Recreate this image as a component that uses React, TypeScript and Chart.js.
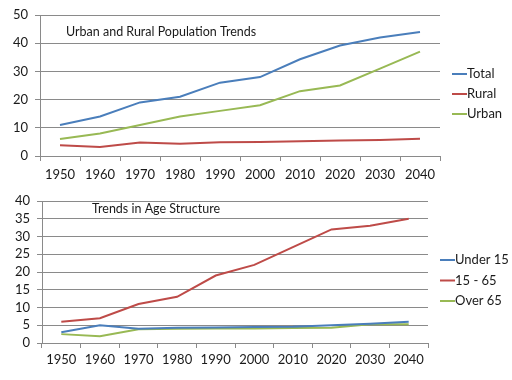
import React, { useEffect, useRef } from "react";
import { Chart, registerables } from "chart.js";

Chart.register(...registerables);

const years = ["1950", "1960", "1970", "1980", "1990", "2000", "2010", "2020", "2030", "2040"];

const totalPop = [11, 14, 19, 21, 26, 28, 34.3, 39.2, 42, 44];
const ruralPop = [3.8, 3.2, 4.8, 4.3, 4.9, 5, 5.2, 5.5, 5.7, 6.1];
const urbanPop = [6, 8, 11, 14, 16, 18, 23, 25, 31, 37];

const under15 = [3, 5, 4, 4.3, 4.4, 4.5, 4.6, 5, 5.4, 6];
const age15to65 = [6, 7, 11, 13, 19, 22, 27, 32, 33, 35];
const over65 = [2.5, 1.9, 3.9, 4, 4.1, 4.1, 4.2, 4.3, 5.3, 5.3];

const topTitle = "Urban and Rural Population Trends";
const bottomTitle = "Trends in Age Structure";

const BLUE = "#4A7EBB";
const RED = "#BE4B48";
const GREEN = "#98B954";
const GRID = "#8a8a8a";
const FONT = "Lato, 'Liberation Sans', sans-serif";

const overlayPlugin = {
  id: "overlay",
  afterDraw(chart: any, _args: any, opts: any) {
    const { ctx, chartArea } = chart;
    ctx.save();
    ctx.fillStyle = "#1a1a1a";
    ctx.textBaseline = "middle";
    ctx.textAlign = "left";
    ctx.font = `12.5px ${FONT}`;
    ctx.fillText(opts.title, chartArea.left + opts.titleDx, chartArea.top + opts.titleDy);
    ctx.font = `13px ${FONT}`;
    chart.data.datasets.forEach((ds: any, i: number) => {
      const y = opts.legendY + i * opts.legendDy;
      ctx.strokeStyle = ds.borderColor;
      ctx.lineWidth = 2;
      ctx.beginPath();
      ctx.moveTo(opts.legendX, y);
      ctx.lineTo(opts.legendX + 15, y);
      ctx.stroke();
      ctx.fillStyle = "#1a1a1a";
      ctx.fillText(ds.label, opts.legendX + 15, y);
    });
    ctx.restore();
  },
};

type Cfg = {
  datasets: { label: string; data: number[]; color: string }[];
  max: number;
  step: number;
  padRight: number;
  padTop: number;
  yWidth: number;
  xHeight: number;
  xPad: number;
  overlay: any;
};

function LineChart({ cfg, height }: { cfg: Cfg; height: number }) {
  const ref = useRef<HTMLCanvasElement | null>(null);
  useEffect(() => {
    if (!ref.current) return;
    const chart = new Chart(ref.current, {
      type: "line",
      data: {
        labels: years,
        datasets: cfg.datasets.map((d) => ({
          label: d.label,
          data: d.data,
          borderColor: d.color,
          backgroundColor: d.color,
          borderWidth: 2,
          pointRadius: 0,
          tension: 0,
        })),
      },
      plugins: [overlayPlugin],
      options: {
        animation: false,
        responsive: true,
        maintainAspectRatio: false,
        layout: { padding: { left: 0, right: cfg.padRight, top: cfg.padTop, bottom: 0 } },
        plugins: {
          legend: { display: false },
          tooltip: { enabled: false },
          overlay: cfg.overlay,
        } as any,
        scales: {
          x: {
            offset: true,
            grid: {
              offset: true,
              drawOnChartArea: false,
              drawTicks: true,
              tickLength: 5,
              color: GRID,
            },
            border: { display: true, color: GRID },
            ticks: {
              color: "#1a1a1a",
              font: { family: FONT, size: 13 },
              padding: cfg.xPad,
              maxRotation: 0,
              autoSkip: false,
            },
            afterFit(scale: any) {
              scale.height = cfg.xHeight;
            },
          },
          y: {
            min: 0,
            max: cfg.max,
            grid: { color: GRID, tickLength: 5 },
            border: { display: true, color: GRID },
            ticks: {
              stepSize: cfg.step,
              autoSkip: false,
              color: "#1a1a1a",
              font: { family: FONT, size: 13 },
              padding: 7,
            },
            afterFit(scale: any) {
              scale.width = cfg.yWidth;
            },
          },
        },
      },
    });
    return () => chart.destroy();
  }, []);
  return (
    <div style={{ position: "relative", width: 512, height }}>
      <canvas ref={ref} />
    </div>
  );
}

const topCfg: Cfg = {
  datasets: [
    { label: "Total", data: totalPop, color: BLUE },
    { label: "Rural", data: ruralPop, color: RED },
    { label: "Urban", data: urbanPop, color: GREEN },
  ],
  max: 50,
  step: 10,
  padRight: 72,
  padTop: 15,
  yWidth: 40,
  xHeight: 29,
  xPad: 6,
  overlay: { title: topTitle, titleDx: 26, titleDy: 17, legendX: 452, legendY: 74, legendDy: 20 },
};

const bottomCfg: Cfg = {
  datasets: [
    { label: "Under 15", data: under15, color: BLUE },
    { label: "15 - 65", data: age15to65, color: RED },
    { label: "Over 65", data: over65, color: GREEN },
  ],
  max: 40,
  step: 5,
  padRight: 84,
  padTop: 16,
  yWidth: 42,
  xHeight: 37,
  xPad: 4,
  overlay: { title: bottomTitle, titleDx: 50, titleDy: 8, legendX: 440, legendY: 75, legendDy: 20.5 },
};

export default function App() {
  return (
    <div style={{ position: "fixed", left: 0, top: 0, width: 512, height: 380, background: "#fff" }}>
      <LineChart cfg={topCfg} height={185} />
      <LineChart cfg={bottomCfg} height={195} />
    </div>
  );
}
